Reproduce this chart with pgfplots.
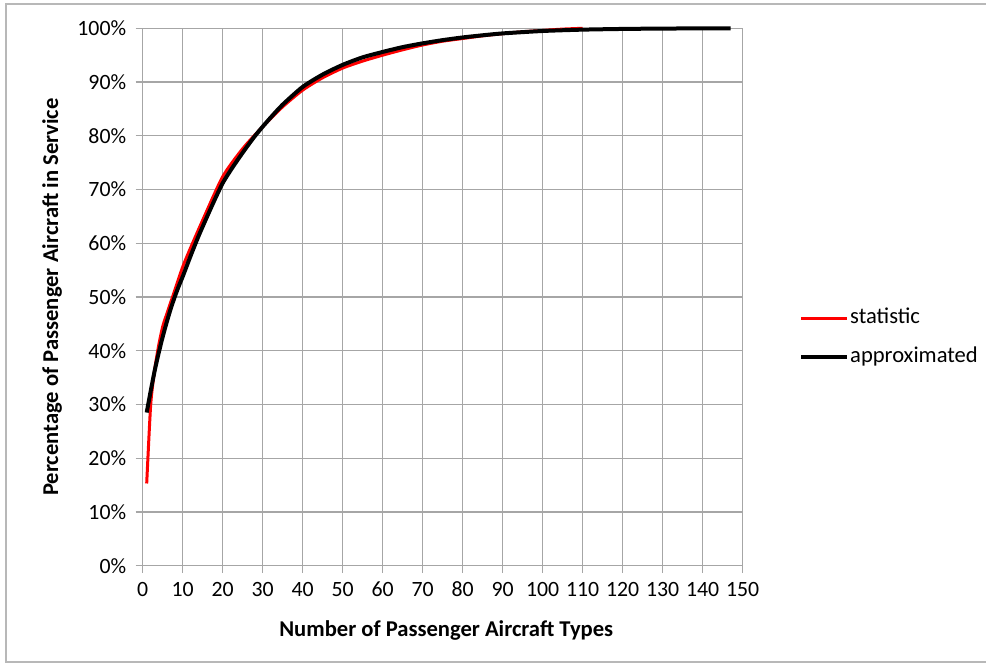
\documentclass[border=0pt]{standalone}
\usepackage{pgfplots}
\pgfplotsset{compat=1.18}
\usepackage{fontspec}
\setmainfont{Carlito}
\definecolor{gridgray}{HTML}{A6A6A6}
\definecolor{exred}{HTML}{FF0000}
\begin{document}
\begin{tikzpicture}[x=1pt,y=1pt]
\useasboundingbox (0,0) rectangle (986,665);
\draw[gridgray!80, line width=1.2pt] (6,3) rectangle (1000,661);
\begin{axis}[
  at={(142.7pt,99.3pt)}, anchor=origin,
  scale only axis, width=600pt, height=537.4pt,
  xmin=0, xmax=150, ymin=0, ymax=100,
  xtick={0,10,...,150}, ytick={0,10,...,100},
  xticklabels={0,10,20,30,40,50,60,70,80,90,100,110,120,130,140,150},
  yticklabels={0\%,10\%,20\%,30\%,40\%,50\%,60\%,70\%,80\%,90\%,100\%},
  grid=major,
  grid style={gridgray, line width=1.3pt},
  axis line style={gridgray, line width=1.3pt},
  axis x line*=bottom, axis y line*=left,
  tick style={gridgray, line width=1.3pt},
  tick align=outside, major tick length=7pt,
  ticklabel style={font=\fontsize{21.8}{26}\selectfont, text=black},
  xticklabel style={yshift=-5pt, text height=15pt, text depth=1pt},
  yticklabel style={xshift=-6pt},
  xlabel={\textbf{Number of Passenger Aircraft Types}},
  ylabel={\textbf{Percentage of Passenger Aircraft in Service}},
  label style={font=\fontsize{22.6}{26}\selectfont},
  xlabel style={at={(axis description cs:0.506,-0.1197)}, anchor=center},
  ylabel style={at={(axis description cs:-0.151,0.5)}, anchor=center},
  legend style={draw=none, fill=none, at={(rel axis cs:1.0938,0.4246)}, anchor=west,
    font=\fontsize{22.6}{26}\selectfont, row sep=19pt, inner sep=0pt,
    nodes={inner sep=0pt, inner xsep=1pt, text height=15pt, text depth=5pt}},
  legend cell align=left,
  legend image code/.code={\draw[#1] (0pt,0pt) -- (46pt,0pt);},
  clip=false,
]
\addplot[exred, line width=3pt, smooth, tension=0.4] coordinates {
(1,15.3) (2,30) (3,36.5) (4,41) (5,44.5) (6,46.8) (8,51.2) (10,55.6) (12,59.2) (15,64.3)
(20,72.4) (25,77.6) (30,81.7) (35,85.4) (40,88.5) (45,90.8) (50,92.6) (55,93.9)
(60,95.0) (65,96.0) (70,96.9) (75,97.6) (80,98.1) (85,98.6) (90,99.0) (95,99.35)
(100,99.6) (105,99.85) (110,100)
};
\addlegendentry{statistic}
\addplot[black, line width=4pt, smooth, tension=0.4] coordinates {
(1,28.5) (2,32.5) (3,36.3) (4,39.6) (5,42.6) (6,45.3) (7,47.8) (8,50.0) (9,52.0)
(10,53.8) (12,57.7) (14,61.4) (16,64.8) (18,68.1) (20,71.2) (22,73.6) (24,75.8)
(26,77.9) (28,79.9) (30,81.7) (32,83.4) (35,85.8) (40,89.1) (45,91.4) (50,93.2)
(55,94.6) (60,95.6) (65,96.5) (70,97.2) (75,97.8) (80,98.3) (85,98.7) (90,99.05)
(100,99.5) (110,99.75) (120,99.88) (130,99.95) (140,99.98) (147,100)
};
\addlegendentry{approximated}
\end{axis}
\end{tikzpicture}
\end{document}
